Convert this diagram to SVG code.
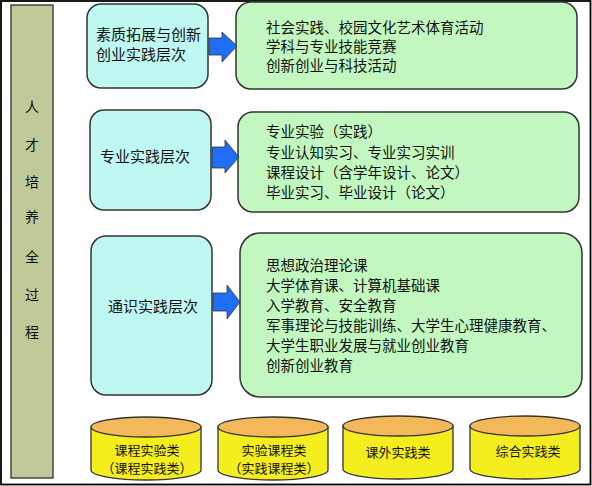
<svg xmlns="http://www.w3.org/2000/svg" width="592" height="486" viewBox="0 0 592 486">
<defs>
<style>
.t{font-family:"Noto Sans CJK SC","Noto Sans",sans-serif;fill:#111}
.lvl{fill:#bff8f0;stroke:#333;stroke-width:1.5}
.cnt{fill:#c2f8c0;stroke:#333;stroke-width:1.5}
.arr{fill:#1f6ef5;stroke:#333;stroke-width:0.8}
.cylb{fill:#f5ee1e;stroke:#333;stroke-width:1.3}
.cylt{fill:#f2b85a;stroke:#333;stroke-width:1.3}
.c{font-size:15px}
.g{font-size:14.5px}
.s{font-size:13px}
</style>
</defs>
<rect x="0" y="0" width="592" height="486" fill="#fff"/>
<rect x="1" y="1" width="589.5" height="483.5" fill="none" stroke="#000" stroke-width="1.8"/>
<g id="bar">
<rect x="11" y="5" width="42" height="473" fill="#c0c998" stroke="#444" stroke-width="1.5"/>
<g class="t" font-size="14" text-anchor="middle">
<text x="32" y="112">人</text>
<text x="32" y="150">才</text>
<text x="32" y="187">培</text>
<text x="32" y="222">养</text>
<text x="32" y="262">全</text>
<text x="32" y="300">过</text>
<text x="32" y="337">程</text>
</g>
</g>
<g id="level1">
<rect class="lvl" x="87" y="4" width="121" height="84" rx="14"/>
<text class="t c" x="96" y="40">素质拓展与创新</text>
<text class="t c" x="96" y="60">创业实践层次</text>
</g>
<g id="content1">
<rect class="cnt" x="236" y="2" width="341" height="87" rx="15"/>
<text class="t g" x="266" y="33">社会实践、校园文化艺术体育活动</text>
<text class="t g" x="266" y="52">学科与专业技能竞赛</text>
<text class="t g" x="266" y="71">创新创业与科技活动</text>
</g>
<g id="level2">
<rect class="lvl" x="90" y="110" width="121" height="100" rx="14"/>
<text class="t c" x="100" y="162">专业实践层次</text>
</g>
<g id="content2">
<rect class="cnt" x="238" y="112" width="341" height="100" rx="15"/>
<text class="t g" x="266" y="137">专业实验（实践）</text>
<text class="t g" x="266" y="158">专业认知实习、专业实习实训</text>
<text class="t g" x="266" y="178">课程设计（含学年设计、论文）</text>
<text class="t g" x="266" y="198">毕业实习、毕业设计（论文）</text>
</g>
<g id="level3">
<rect class="lvl" x="91" y="236" width="121" height="159" rx="15"/>
<text class="t c" x="108" y="312">通识实践层次</text>
</g>
<g id="content3">
<rect class="cnt" x="240" y="233" width="342" height="164" rx="20"/>
<text class="t g" x="266" y="271">思想政治理论课</text>
<text class="t g" x="266" y="291">大学体育课、计算机基础课</text>
<text class="t g" x="266" y="311">入学教育、安全教育</text>
<text class="t g" x="266" y="331">军事理论与技能训练、大学生心理健康教育、</text>
<text class="t g" x="266" y="351">大学生职业发展与就业创业教育</text>
<text class="t g" x="266" y="371">创新创业教育</text>
</g>
<g id="connectors">
<polygon class="arr" points="209,38 222,38 222,32 237,46 222,62 222,55 209,55"/>
<polygon class="arr" points="212,147 225,147 225,140 239,157 225,173 225,168 212,168"/>
<polygon class="arr" points="213,293 227,293 227,285 240,302 227,319 227,311 213,311"/>
</g>
<g id="cyl1">
<path class="cylb" d="M91,427 V470 A55,10 0 0 0 201,470 V427 Z"/>
<ellipse class="cylt" cx="146" cy="427" rx="55" ry="10"/>
<text class="t s" x="147" y="455" text-anchor="middle">课程实验类</text>
<text class="t s" x="147" y="473" text-anchor="middle">（课程实践类）</text>
</g>
<g id="cyl2">
<path class="cylb" d="M218,427 V470 A55,10 0 0 0 328,470 V427 Z"/>
<ellipse class="cylt" cx="273" cy="427" rx="55" ry="10"/>
<text class="t s" x="274" y="455" text-anchor="middle">实验课程类</text>
<text class="t s" x="274" y="473" text-anchor="middle">（实践课程类）</text>
</g>
<g id="cyl3">
<path class="cylb" d="M343,426 V469 A55,10 0 0 0 453,469 V426 Z"/>
<ellipse class="cylt" cx="398" cy="426" rx="55" ry="10"/>
<text class="t s" x="398" y="457" text-anchor="middle">课外实践类</text>
</g>
<g id="cyl4">
<path class="cylb" d="M470,426 V469 A55,10 0 0 0 580,469 V426 Z"/>
<ellipse class="cylt" cx="525" cy="426" rx="55" ry="10"/>
<text class="t s" x="528" y="456" text-anchor="middle">综合实践类</text>
</g>
</svg>
